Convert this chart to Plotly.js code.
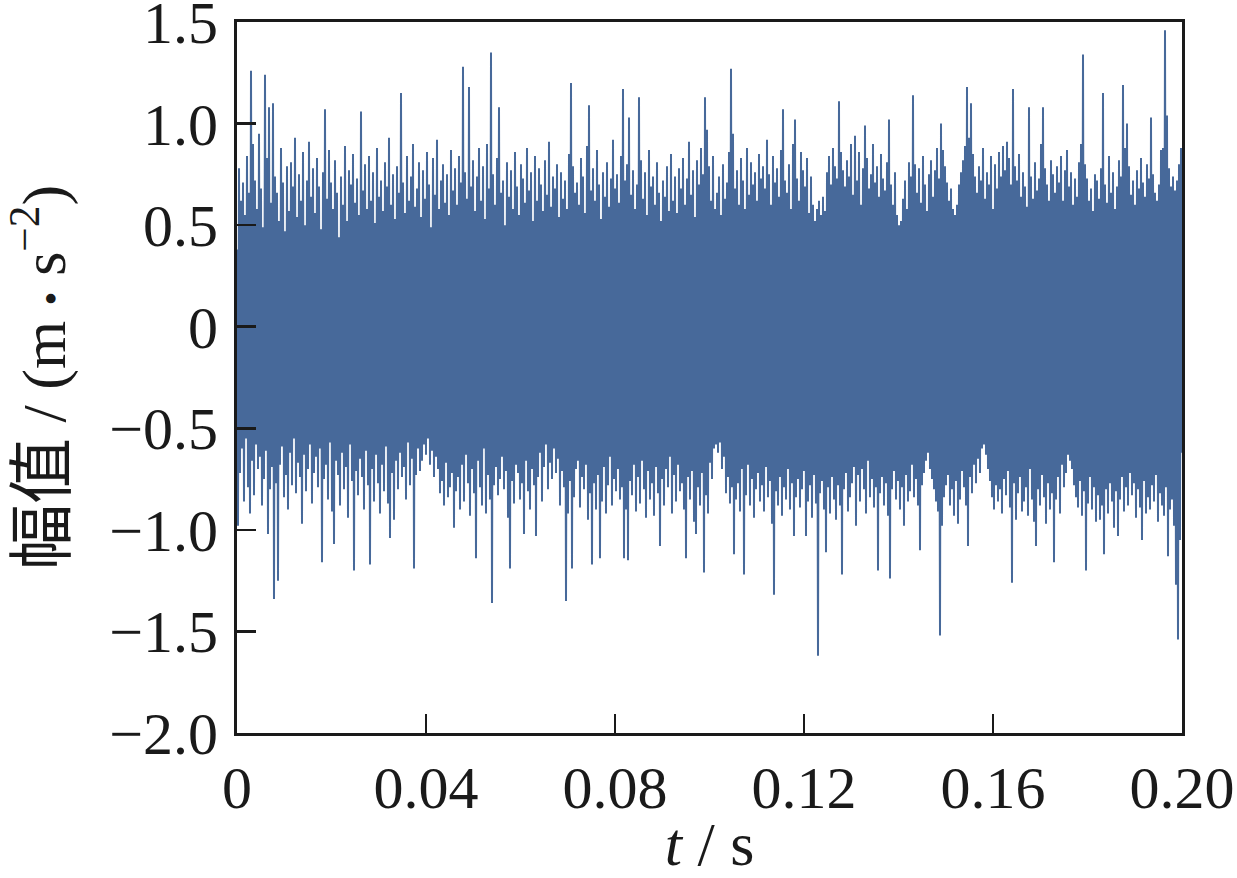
<!DOCTYPE html>
<html>
<head>
<meta charset="utf-8">
<script src="https://cdn.plot.ly/plotly-3.0.1.min.js"></script>
<style>html,body{margin:0;padding:0;background:#fff;}#chart{width:1237px;height:878px;}</style>
</head>
<body>
<div id="chart"></div>
<script>
// Upper (positive) peaks of the vibration signal, read left to right
const upperPeaks = [
0.38,0.78,0.62,0.71,0.55,0.84,0.66,1.26,0.90,0.72,
0.58,0.95,0.68,0.49,1.24,0.83,1.08,0.61,1.10,0.74,
0.66,0.52,0.88,0.71,0.47,0.79,0.57,0.81,0.69,0.93,
0.54,0.75,0.62,0.86,0.50,0.72,0.91,0.64,0.78,0.56,
0.83,0.69,0.48,0.76,1.07,0.63,0.87,0.71,0.58,0.82,
0.66,0.44,0.74,0.60,0.89,0.52,0.77,0.70,0.85,0.61,
0.73,0.55,1.06,0.67,0.80,0.58,0.84,0.62,0.76,0.51,
0.88,0.64,0.72,0.57,0.81,0.69,0.93,0.60,0.75,0.53,
0.79,0.66,1.15,0.71,0.56,0.84,0.62,0.74,0.90,0.59,
0.68,0.81,0.54,0.77,0.63,0.86,0.70,0.49,0.83,0.65,
0.92,0.58,0.72,0.80,0.61,0.75,0.55,0.87,0.67,0.78,
0.60,0.84,0.71,1.28,0.76,0.63,1.18,0.69,0.82,0.57,
0.74,0.88,0.62,0.79,0.53,0.90,0.68,1.35,0.75,0.60,
0.83,1.08,0.66,0.72,0.50,0.81,0.64,0.77,0.58,0.86,
0.69,0.55,0.80,0.73,0.61,0.88,0.67,0.76,0.52,0.84,
0.62,0.78,0.70,0.57,0.82,0.65,0.91,0.59,0.74,0.68,
0.80,0.54,0.76,0.63,0.72,0.58,0.85,1.20,0.79,0.66,
0.71,0.60,0.83,0.74,0.56,0.89,1.09,0.67,0.78,0.62,
0.87,0.70,0.53,0.76,0.64,0.81,0.59,0.73,0.92,0.68,
0.75,0.61,0.84,1.17,0.72,0.80,1.03,0.65,0.77,0.58,
0.70,1.13,0.82,0.63,0.76,0.55,0.87,0.69,0.74,0.60,
0.81,0.66,0.52,0.72,0.64,0.79,0.57,0.85,0.62,0.74,
0.56,0.78,0.68,0.83,0.60,0.73,0.91,0.65,0.77,0.54,
0.82,0.70,0.88,0.75,1.13,0.97,0.79,0.62,0.84,0.58,
0.66,0.74,0.55,0.80,0.63,0.71,0.86,1.27,0.95,0.68,
0.77,0.60,0.83,0.72,0.58,0.88,0.65,0.81,0.70,0.76,
0.62,0.85,0.73,0.79,0.68,0.92,0.75,0.60,0.84,0.71,
0.78,0.64,0.87,1.07,0.72,0.66,0.80,0.58,0.90,1.02,
0.73,0.62,0.86,0.77,0.69,0.83,0.56,0.74,0.60,0.52,
0.58,0.62,0.55,0.64,0.57,0.76,0.84,0.70,0.88,0.79,
0.73,1.11,0.86,0.77,0.69,0.82,0.74,0.90,0.65,0.94,
0.72,0.86,0.60,0.78,0.99,0.83,0.68,0.75,0.90,0.71,
0.79,0.64,0.85,0.73,0.67,0.81,1.02,0.70,0.60,0.76,
0.55,0.50,0.52,0.63,0.72,0.58,0.81,0.74,1.14,0.80,
0.66,0.78,0.61,0.84,0.70,0.57,0.75,0.82,0.64,0.77,
0.88,0.73,1.00,0.87,0.79,0.71,0.62,0.68,0.58,0.55,
0.60,0.70,0.76,0.82,0.89,1.18,0.93,1.10,0.85,0.74,
0.66,0.79,0.72,0.88,0.63,0.76,0.70,0.84,0.58,0.80,
0.68,0.86,0.74,0.89,0.77,0.91,0.83,0.70,1.17,0.79,
0.72,0.85,0.64,0.76,0.69,0.59,1.08,0.74,0.63,0.81,
0.67,0.73,0.90,1.08,0.78,0.70,0.62,0.82,0.75,0.66,
0.79,0.71,0.84,0.62,0.77,0.87,0.69,0.76,0.60,0.73,
0.64,0.81,0.90,1.34,0.80,0.73,0.62,0.68,0.57,0.75,
0.72,0.63,0.78,1.15,0.70,0.61,0.84,0.66,0.76,0.58,
0.69,0.82,0.74,1.19,0.88,1.00,0.79,0.65,0.72,0.60,
0.77,0.68,0.83,0.71,0.64,0.80,0.73,1.03,0.75,0.66,
0.62,0.70,0.87,0.88,1.46,1.04,0.78,0.69,0.74,0.67,
0.72,0.80,0.88
];
// Lower (negative) peaks, read left to right
const lowerPeaks = [
-0.98,-0.72,-0.60,-0.86,-0.55,-0.79,-0.92,-0.66,-0.83,-0.58,
-0.70,-0.64,-0.88,-0.75,-0.61,-1.02,-0.80,-0.69,-1.34,-0.77,
-1.25,-0.68,-0.59,-0.84,-0.73,-0.90,-0.62,-0.78,-0.55,-0.82,
-0.67,-0.74,-0.97,-0.63,-0.81,-0.70,-0.58,-0.87,-0.72,-0.64,
-0.79,-0.60,-1.16,-0.75,-0.68,-0.85,-0.57,-0.91,-1.07,-0.66,
-0.73,-0.88,-0.62,-0.80,-0.69,-0.94,-0.58,-0.76,-1.20,-0.71,
-0.83,-0.65,-0.74,-0.90,-0.61,-0.78,-1.17,-0.70,-0.86,-0.63,
-0.77,-0.92,-0.68,-0.81,-0.59,-0.87,-1.04,-0.72,-0.95,-0.66,
-0.80,-0.62,-0.74,-0.69,-0.85,-0.57,-0.78,-0.65,-1.19,-0.73,
-0.60,-0.71,-0.66,-0.58,-0.63,-0.55,-0.68,-0.61,-0.74,-0.64,
-0.70,-0.82,-0.76,-0.88,-0.67,-0.84,-0.79,-0.72,-0.99,-0.81,
-0.74,-0.90,-0.68,-0.86,-0.63,-0.77,-0.93,-0.70,-0.82,-1.14,
-0.66,-0.79,-0.88,-0.60,-0.92,-0.73,-0.85,-1.36,-0.78,-0.69,
-0.83,-0.75,-0.64,-0.80,-0.71,-0.94,-1.19,-0.76,-0.87,-0.68,
-0.72,-0.85,-0.77,-1.02,-0.66,-0.81,-0.90,-0.70,-0.78,-1.03,
-0.74,-0.62,-0.86,-0.69,-0.58,-0.80,-0.67,-0.75,-0.60,-0.72,
-0.65,-0.88,-0.71,-0.79,-1.35,-0.92,-0.76,-1.19,-0.84,-0.70,
-0.66,-0.89,-0.74,-0.80,-0.68,-0.95,-0.82,-1.17,-0.77,-0.90,
-0.73,-1.14,-0.86,-0.69,-0.92,-0.78,-0.64,-0.88,-0.75,-0.81,
-0.70,-0.85,-0.79,-1.14,-0.90,-1.15,-0.76,-0.83,-0.68,-0.91,
-0.74,-0.87,-0.66,-0.80,-0.94,-0.71,-0.85,-0.77,-0.93,-0.69,
-0.82,-1.08,-0.75,-0.88,-0.70,-0.79,-0.64,-0.92,-0.73,-0.86,
-0.68,-0.81,-0.77,-0.90,-1.14,-0.74,-0.85,-0.71,-0.96,-1.02,
-0.79,-0.88,-0.72,-1.21,-0.83,-0.92,-0.67,-0.75,-0.60,-0.58,
-0.62,-0.57,-0.70,-0.64,-0.82,-0.74,-0.87,-0.79,-1.12,-0.85,
-0.77,-0.91,-0.70,-1.22,-0.83,-0.68,-0.88,-0.75,-0.94,-0.80,
-0.72,-0.86,-0.78,-0.91,-0.69,-0.84,-0.76,-0.97,-1.32,-0.81,
-0.88,-0.74,-0.93,-0.79,-0.85,-0.70,-0.90,-0.77,-1.03,-0.84,
-0.75,-0.89,-0.80,-0.71,-1.03,-0.86,-0.78,-0.94,-0.73,-0.87,
-1.62,-0.82,-0.76,-0.90,-1.11,-0.79,-0.92,-0.74,-0.85,-0.95,
-0.78,-0.88,-1.22,-0.80,-0.72,-0.91,-0.84,-0.77,-0.69,-0.98,
-0.73,-0.86,-0.70,-0.80,-0.92,-0.66,-0.84,-0.75,-0.89,-0.79,
-1.20,-0.82,-0.74,-0.88,-0.77,-0.93,-1.24,-0.80,-0.71,-0.85,
-0.76,-0.90,-0.79,-0.98,-0.73,-0.86,-0.81,-0.68,-0.84,-0.75,
-0.88,-1.10,-0.78,-0.72,-0.66,-0.62,-0.70,-0.75,-0.80,-0.86,
-0.91,-1.52,-0.98,-0.84,-0.78,-0.73,-0.88,-0.80,-0.93,-0.76,
-0.97,-0.85,-0.71,-0.79,-0.88,-1.08,-0.74,-0.82,-0.68,-0.77,
-0.65,-0.72,-0.60,-0.58,-0.63,-0.70,-0.76,-0.84,-0.90,-0.78,
-0.86,-0.80,-0.92,-0.75,-0.83,-0.71,-0.89,-1.26,-0.77,-0.95,
-0.82,-0.74,-0.91,-0.86,-0.79,-0.93,-0.70,-0.85,-0.96,-1.08,
-0.80,-0.88,-0.73,-0.84,-0.97,-0.77,-0.90,-0.82,-1.16,-0.85,
-0.74,-0.92,-0.68,-0.79,-0.72,-0.63,-0.66,-0.70,-0.78,-0.84,
-0.89,-0.76,-0.93,-0.81,-1.20,-0.87,-0.74,-0.90,-0.79,-0.96,
-0.83,-0.95,-0.88,-1.12,-0.80,-0.92,-0.77,-0.86,-0.99,-0.81,
-1.03,-0.85,-0.74,-0.91,-0.79,-0.88,-0.72,-0.83,-0.77,-0.94,
-0.80,-0.89,-1.05,-0.76,-0.92,-0.84,-0.90,-0.78,-0.86,-0.73,
-0.96,-0.82,-0.88,-0.93,-0.79,-1.13,-0.90,-0.85,-0.98,-1.27,
-1.54,-1.05,-0.62
];
const tStart = 0, tEnd = 0.2;
const xTickVals = [0, 0.04, 0.08, 0.12, 0.16, 0.20];
const xTickText = ["0", "0.04", "0.08", "0.12", "0.16", "0.20"];
const yTickVals = [-2.0, -1.5, -1.0, -0.5, 0, 0.5, 1.0, 1.5];
const yTickText = ["\u22122.0", "\u22121.5", "\u22121.0", "\u22120.5", "0", "0.5", "1.0", "1.5"];
const yTitleText = "<span style=\"font-size:66px\">幅值</span> / (m <span style=\"font-size:40px\">•</span> s<sup>−2</sup>)";

// interleave positive/negative peaks into the sampled signal
const signal = [];
const n = Math.min(upperPeaks.length, lowerPeaks.length);
for (let i = 0; i < n; i++) { signal.push(upperPeaks[i]); signal.push(lowerPeaks[i]); }

const serif = "Liberation Serif, Times New Roman, Noto Sans CJK SC, serif";
const trace = {
  type: "scatter", mode: "lines",
  x0: tStart, dx: (tEnd - tStart) / (signal.length - 1),
  y: signal,
  line: {color: "#47699a", width: 2, simplify: false},
  hoverinfo: "skip"
};
const axisCommon = {
  showgrid: false, zeroline: false, showline: true, mirror: true,
  linecolor: "#1a1a1a", linewidth: 3,
  ticks: "inside", tickcolor: "#1a1a1a", tickwidth: 2.5, ticklen: 19,
  ticklabeloverflow: "allow",
  tickfont: {family: serif, size: 60, color: "#1a1a1a"}
};
const layout = {
  width: 1237, height: 878,
  margin: {l: 237, r: 55, t: 22, b: 145},
  paper_bgcolor: "#ffffff", plot_bgcolor: "#ffffff",
  showlegend: false,
  xaxis: Object.assign({}, axisCommon, {
    range: [tStart, tEnd], tickmode: "array", tickvals: xTickVals, ticktext: xTickText,
    ticklabelstandoff: 0,
    title: {text: "<i>t</i> / s", font: {family: serif, size: 62, color: "#1a1a1a"}, standoff: 6}
  }),
  yaxis: Object.assign({}, axisCommon, {
    range: [-2.0, 1.5], tickmode: "array", tickvals: yTickVals, ticktext: yTickText,
    ticklabelstandoff: 4
  }),
  annotations: [{
    xref: "paper", yref: "paper", x: -0.209, y: 0.5,
    xanchor: "center", yanchor: "middle", textangle: -90, showarrow: false,
    text: yTitleText, font: {family: serif, size: 62, color: "#1a1a1a"}
  }]
};
Plotly.newPlot("chart", [trace], layout, {staticPlot: true, displayModeBar: false});
</script>
</body>
</html>
